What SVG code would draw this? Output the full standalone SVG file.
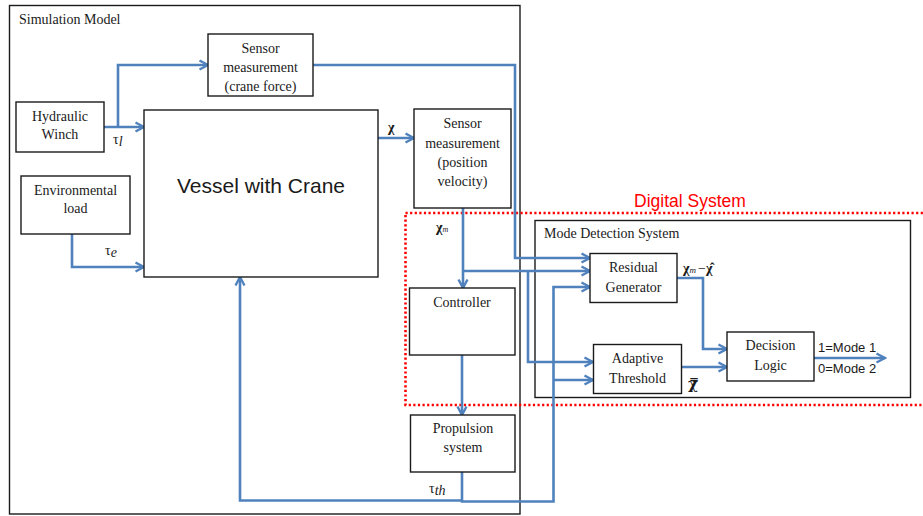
<svg xmlns="http://www.w3.org/2000/svg" width="923" height="516" viewBox="0 0 923 516">
<style>
.box{fill:#fff;stroke:#1a1a1a;stroke-width:1.4}
.frame{fill:none;stroke:#1a1a1a;stroke-width:1.4}
.t{font-family:"Liberation Serif","Times New Roman",serif;font-size:14px;fill:#1a1a1a;text-anchor:middle}
.tl{font-family:"Liberation Serif","Times New Roman",serif;font-size:14px;fill:#1a1a1a}
.s{font-family:"Liberation Sans",Arial,sans-serif;fill:#1a1a1a}
.c{fill:none;stroke:#4F81BD;stroke-width:2.6;stroke-linejoin:miter}
.ca{fill:none;stroke:#4F81BD;stroke-width:2.6;marker-end:url(#a)}
</style>
<defs>
<marker id="a" viewBox="0 0 12 12" refX="10.5" refY="6" markerWidth="12" markerHeight="12" markerUnits="userSpaceOnUse" orient="auto">
<path d="M2,1.5 L10.5,6 L2,10.5" fill="none" stroke="#4F81BD" stroke-width="2.4"/>
</marker>
</defs>
<rect width="923" height="516" fill="#fff"/>

<g id="simulation-model">
<rect class="frame" x="9.5" y="5.5" width="510.5" height="508.5"/>
<text class="tl" x="19" y="24">Simulation Model</text>
</g>

<g id="digital-system">
<rect x="405.5" y="213" width="530" height="192" fill="none" stroke="#FF0000" stroke-width="2.6" stroke-dasharray="2.2 2.4"/>
<text class="s" x="690" y="207" font-size="17.5" text-anchor="middle" style="fill:#FF0000">Digital System</text>
</g>

<g id="mode-detection-system">
<rect class="frame" x="535" y="220.5" width="375.5" height="177"/>
<text class="tl" x="544" y="238">Mode Detection System</text>
</g>

<g id="connectors">
<path class="ca" d="M104,127 H144"/>
<path class="ca" d="M118,127 V65 H208"/>
<path class="ca" d="M72,234 V267 H144"/>
<path class="ca" d="M378,138 H414"/>
<path class="ca" d="M313,65 H515 V258 H590"/>
<path class="ca" d="M463,208 V288"/>
<path class="ca" d="M463,271 H590"/>
<path class="ca" d="M528,271 V362 H593"/>
<path class="ca" d="M462,355 V415"/>
<path class="ca" d="M462,472 V501.5 H553.5 V287 H590"/>
<path class="ca" d="M553.5,380 H593"/>
<path class="ca" d="M462,500.5 H240 V277"/>
<path class="ca" d="M677,278 H703 V349 H727"/>
<path class="ca" d="M682,367 H727"/>
<path class="ca" d="M814,358 H885"/>
</g>

<g id="hydraulic-winch">
<rect class="box" x="16" y="102" width="88" height="50"/>
<text class="t" x="60" y="121">Hydraulic</text>
<text class="t" x="60" y="139">Winch</text>
</g>

<g id="environmental-load">
<rect class="box" x="21" y="176" width="109" height="58"/>
<text class="t" x="75.5" y="195">Environmental</text>
<text class="t" x="75.5" y="213">load</text>
</g>

<g id="sensor-crane-force">
<rect class="box" x="208" y="34" width="105" height="62"/>
<text class="t" x="260.5" y="53">Sensor</text>
<text class="t" x="260.5" y="72">measurement</text>
<text class="t" x="260.5" y="91">(crane force)</text>
</g>

<g id="vessel-with-crane">
<rect class="box" x="144" y="110" width="234" height="167"/>
<text class="s" x="261" y="193" font-size="21" text-anchor="middle">Vessel with Crane</text>
</g>

<g id="sensor-position-velocity">
<rect class="box" x="414" y="109" width="97" height="99"/>
<text class="t" x="462.5" y="128">Sensor</text>
<text class="t" x="462.5" y="148">measurement</text>
<text class="t" x="462.5" y="167">(position</text>
<text class="t" x="462.5" y="186">velocity)</text>
</g>

<g id="controller">
<rect class="box" x="409.5" y="288" width="105.5" height="67"/>
<text class="t" x="462" y="307">Controller</text>
</g>

<g id="propulsion-system">
<rect class="box" x="410.5" y="415" width="104.5" height="57"/>
<text class="t" x="463" y="433">Propulsion</text>
<text class="t" x="463" y="452">system</text>
</g>

<g id="residual-generator">
<rect class="box" x="590" y="253.5" width="87" height="49"/>
<text class="t" x="633.5" y="272">Residual</text>
<text class="t" x="633.5" y="292">Generator</text>
</g>

<g id="adaptive-threshold">
<rect class="box" x="593.5" y="344.5" width="88" height="49"/>
<text class="t" x="637.5" y="363">Adaptive</text>
<text class="t" x="637.5" y="383">Threshold</text>
</g>

<g id="decision-logic">
<rect class="box" x="727" y="332" width="87" height="49"/>
<text class="t" x="770.5" y="350">Decision</text>
<text class="t" x="770.5" y="370">Logic</text>
</g>

<g id="labels">
<text class="tl" x="113" y="144" font-size="16">τ<tspan font-style="italic" font-size="14" dy="2">l</tspan></text>
<text class="tl" x="105" y="255" font-size="16">τ<tspan font-style="italic" font-size="14" dy="2">e</tspan></text>
<text class="tl" x="429" y="493" font-size="16">τ<tspan font-style="italic" font-size="14" dy="2">th</tspan></text>
<text class="tl" x="388" y="132" font-size="16" font-weight="bold">χ</text>
<text class="tl" x="436" y="232" font-size="15" font-weight="bold">χ<tspan font-size="8" font-style="italic" font-weight="normal">m</tspan></text>
<text class="tl" x="683" y="273" font-size="16" font-weight="bold">χ<tspan font-size="9" font-style="italic" font-weight="normal">m</tspan><tspan font-weight="normal" dx="2">−</tspan>χ̂</text>
<text x="688" y="389" font-family="'DejaVu Serif',serif" font-size="15" font-weight="bold" fill="#1a1a1a">χ̿</text>
<text class="s" x="818" y="352" font-size="13">1=Mode 1</text>
<text class="s" x="818" y="373" font-size="13">0=Mode 2</text>
</g>
</svg>
